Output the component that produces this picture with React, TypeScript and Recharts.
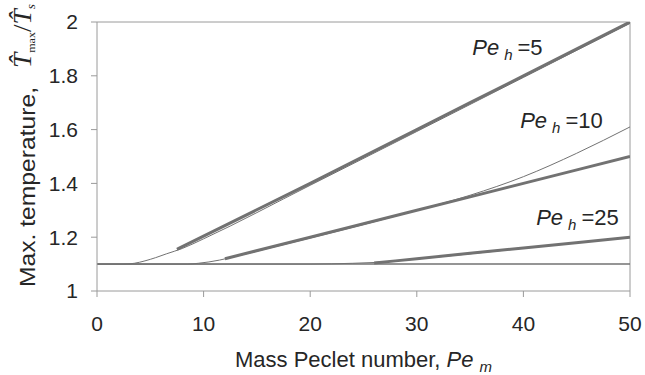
import React from "react";
import {
  LineChart,
  Line,
  XAxis,
  YAxis,
  ReferenceLine,
  ReferenceDot,
  Label,
} from "recharts";

interface Pt {
  x: number;
  y: number;
}

// x ticks and y ticks
const xTicks = [0, 10, 20, 30, 40, 50];
const yTicks = [1, 1.2, 1.4, 1.6, 1.8, 2];

// flat reference curve at T = 1.1
const baseX = [0, 50];
const baseY = [1.1, 1.1];

// Pe_h = 5
const thick5X = [7.5, 20, 30, 40, 50];
const thick5Y = [1.155, 1.4, 1.6, 1.8, 2.0];
const thin5X = [0, 2.5, 3.5, 4.5, 5.5, 6.5, 8, 10, 20, 30, 40, 50];
const thin5Y = [1.1, 1.1, 1.103, 1.112, 1.124, 1.138, 1.158, 1.194, 1.393, 1.593, 1.794, 1.995];

// Pe_h = 10
const thick10X = [12, 20, 30, 40, 50];
const thick10Y = [1.12, 1.2, 1.3, 1.4, 1.5];
const thin10X = [0, 8.5, 9.5, 10.5, 11.5, 12.5, 15, 20, 25, 30, 35, 40, 45, 50];
const thin10Y = [1.1, 1.1, 1.103, 1.108, 1.115, 1.124, 1.148, 1.197, 1.247, 1.3, 1.356, 1.425, 1.512, 1.61];

// Pe_h = 25
const thick25X = [26, 30, 40, 50];
const thick25Y = [1.104, 1.12, 1.16, 1.2];
const thin25X = [0, 20, 22, 24, 26, 30, 40, 50];
const thin25Y = [1.1, 1.1, 1.101, 1.103, 1.106, 1.119, 1.159, 1.199];

// curve labels: [Pe_h value, x, y] (anchor of the text start / baseline)
const curveLabels: [string, number, number][] = [
  ["5", 35.2, 1.877],
  ["10", 39.7, 1.606],
  ["25", 41.2, 1.245],
];

const zip = (xs: number[], ys: number[]): Pt[] =>
  xs.map((x, i) => ({ x, y: ys[i] }));

const FONT = "'Liberation Sans', Arial, sans-serif";
const SERIF = "'Liberation Serif', 'Times New Roman', serif";
const TEXT = "#262626";
const AXIS = "#9a9a9a";
const LINE = "#727272";

const PeLabel = (value: string) => (props: any) => {
  const { viewBox } = props;
  const x = viewBox.x + (viewBox.width || 0) / 2;
  const y = viewBox.y + (viewBox.height || 0) / 2;
  return (
    <text x={x} y={y} fontFamily={FONT} fontSize={22} fill={TEXT}>
      <tspan fontStyle="italic">Pe</tspan>
      <tspan fontStyle="italic" fontSize={15} dx={5} dy={5}>
        h
      </tspan>
      <tspan dx={5} dy={-5}>
        =
      </tspan>
      <tspan>{value}</tspan>
    </text>
  );
};

const XTitle = (props: any) => {
  const { viewBox } = props;
  const cx = viewBox.x + viewBox.width / 2;
  return (
    <text
      x={cx}
      y={viewBox.y + 76}
      textAnchor="middle"
      fontFamily={FONT}
      fontSize={22}
      fill={TEXT}
    >
      Mass Peclet number,{" "}
      <tspan fontStyle="italic">Pe</tspan>
      <tspan fontStyle="italic" fontSize={15} dx={6} dy={5}>
        m
      </tspan>
    </text>
  );
};

const YTitle = () => {
  const x = 35;
  const y = 287;
  return (
    <g transform={`rotate(-90, ${x}, ${y})`}>
      <text
        x={x}
        y={y}
        fontFamily={FONT}
        fontSize={22}
        fill={TEXT}
        textLength={200}
        lengthAdjust="spacingAndGlyphs"
      >
        Max. temperature,
      </text>
      <text
        x={x + 219}
        y={y - 4}
        fontFamily={SERIF}
        fontSize={25}
        fill={TEXT}
        textLength={64}
        lengthAdjust="spacingAndGlyphs"
      >
        <tspan fontStyle="italic">{"T\u0302"}</tspan>
        <tspan fontSize={11} dy={4}>
          max
        </tspan>
        <tspan dy={-4}>/</tspan>
        <tspan fontStyle="italic">{"T\u0302"}</tspan>
        <tspan fontStyle="italic" fontSize={12} dy={4}>
          s
        </tspan>
      </text>
    </g>
  );
};

const series = [
  { key: "base", data: zip(baseX, baseY), width: 1.5 },
  { key: "thin5", data: zip(thin5X, thin5Y), width: 1 },
  { key: "thin10", data: zip(thin10X, thin10Y), width: 1 },
  { key: "thin25", data: zip(thin25X, thin25Y), width: 1 },
  { key: "thick5", data: zip(thick5X, thick5Y), width: 3 },
  { key: "thick10", data: zip(thick10X, thick10Y), width: 3 },
  { key: "thick25", data: zip(thick25X, thick25Y), width: 3 },
];

const App: React.FC = () => {
  return (
    <div style={{ position: "absolute", left: 0, top: 0, background: "#fff" }}>
      <LineChart
        width={645}
        height={375}
        margin={{ top: 22, right: 15, bottom: 0, left: 0 }}
      >
        <XAxis
          dataKey="x"
          type="number"
          domain={[0, 50]}
          ticks={xTicks}
          allowDataOverflow
          stroke={AXIS}
          tickSize={6}
          tickMargin={19}
          height={84}
          tick={{ fill: TEXT, fontSize: 21, fontFamily: FONT }}
        >
          <Label content={XTitle} />
        </XAxis>
        <YAxis
          dataKey="y"
          type="number"
          domain={[1, 2]}
          ticks={yTicks}
          allowDataOverflow
          stroke={AXIS}
          tickSize={6}
          tickMargin={13}
          width={97}
          tickFormatter={(v: number) => String(v)}
          tick={{ fill: TEXT, fontSize: 21, fontFamily: FONT }}
        >
          <Label content={YTitle} />
        </YAxis>
        {/* frame on top and right */}
        <ReferenceLine y={2} stroke={AXIS} strokeWidth={1} />
        <ReferenceLine x={50} stroke={AXIS} strokeWidth={1} />
        {series.map((s) => (
          <Line
            key={s.key}
            data={s.data}
            dataKey="y"
            type="monotone"
            stroke={LINE}
            strokeWidth={s.width}
            dot={false}
            activeDot={false}
            isAnimationActive={false}
          />
        ))}
        {curveLabels.map(([v, x, y]) => (
          <ReferenceDot
            key={v}
            x={x}
            y={y}
            r={0}
            fill="none"
            stroke="none"
            label={PeLabel(v)}
          />
        ))}
      </LineChart>
    </div>
  );
};

export default App;
